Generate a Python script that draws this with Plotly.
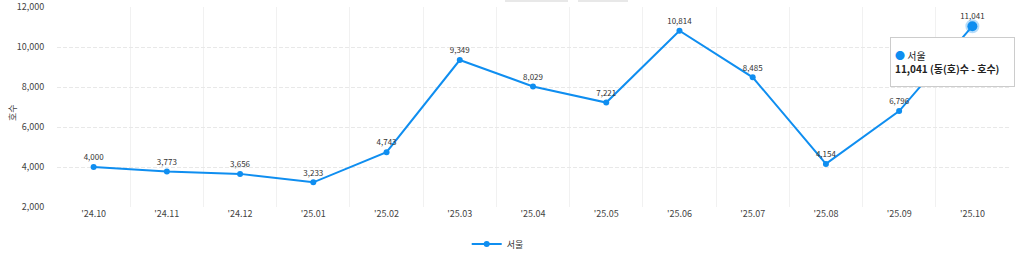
import plotly.graph_objects as go

categories = ["'24.10", "'24.11", "'24.12", "'25.01", "'25.02", "'25.03", "'25.04",
              "'25.05", "'25.06", "'25.07", "'25.08", "'25.09", "'25.10"]
seoul = [4000, 3773, 3656, 3233, 4743, 9349, 8029, 7221, 10814, 8485, 4154, 6796, 11041]
y_ticks = [2000, 4000, 6000, 8000, 10000, 12000]
series_name = "서울"
y_title = "호수"
tooltip_unit = "(동(호)수 - 호수)"

BLUE = "#0f8ef0"
FONT = "Noto Sans CJK KR"

fig = go.Figure()
fig.add_trace(go.Scatter(
    x=categories, y=seoul, name=series_name, mode="lines+markers+text",
    line=dict(color=BLUE, width=2), marker=dict(color=BLUE, size=6),
    text=[f"{v:,}" for v in seoul], textposition="top center",
    textfont=dict(size=8, color="#333333", family=FONT),
    cliponaxis=False,
))
fig.add_trace(go.Scatter(
    x=[categories[-1]], y=[seoul[-1]], mode="markers", showlegend=False,
    marker=dict(color=BLUE, size=10, line=dict(color="rgba(15,142,240,0.3)", width=4)),
    cliponaxis=False, hoverinfo="skip",
))

fig.update_layout(
    width=1022, height=259,
    margin=dict(l=57, r=13, t=7, b=52, autoexpand=False),
    paper_bgcolor="white", plot_bgcolor="white",
    font=dict(family=FONT, color="#444444", size=9),
    showlegend=True,
    legend=dict(orientation="h", xref="container", yref="container",
                x=0.487, xanchor="center", y=1 - 244 / 259, yanchor="middle",
                font=dict(size=9, color="#333333")),
    xaxis=dict(type="category", tickson="boundaries", showgrid=True, gridcolor="#f1f1f1",
               griddash="solid", ticks="outside", ticklen=8, tickcolor="rgba(0,0,0,0)",
               tickfont=dict(size=9, color="#444444"), showline=False, zeroline=False,
               range=[-0.5, len(categories) - 0.5]),
    yaxis=dict(range=[2000, 12000], tickvals=y_ticks, tickformat=",", showgrid=True,
               gridcolor="#e8e8e8", griddash="4px,2px", zeroline=False, showline=False,
               ticks="outside", ticklen=10, tickcolor="rgba(0,0,0,0)",
               tickfont=dict(size=9, color="#444444")),
    shapes=[
        dict(type="rect", xref="paper", yref="paper", x0=(505 - 57) / 952, x1=(568 - 57) / 952,
             y0=(207 - 0) / 200, y1=(207 - 2) / 200, fillcolor="#e8e8e8", line=dict(width=0)),
        dict(type="rect", xref="paper", yref="paper", x0=(578 - 57) / 952, x1=(628 - 57) / 952,
             y0=(207 - 0) / 200, y1=(207 - 2) / 200, fillcolor="#e8e8e8", line=dict(width=0)),
    ],
    annotations=[
        dict(xref="paper", yref="paper", x=(12 - 57) / 952, y=(207 - 113) / 200,
             xanchor="center", yanchor="middle", showarrow=False, textangle=-90,
             text=y_title, font=dict(size=9, color="#444444", family=FONT)),
        dict(
            xref="paper", yref="paper", x=(952.5 - 57) / 952, y=(207 - 62) / 200,
            xanchor="center", yanchor="middle", showarrow=False, align="left",
            width=115, height=40, bgcolor="white", bordercolor="#cccccc", borderwidth=1, borderpad=4,
            text=(f"<span style='color:{BLUE};font-size:10px'>●</span> {series_name}<br>"
                  f"<b>{seoul[-1]:,} {tooltip_unit}</b>"),
            font=dict(size=10, color="#222222", family=FONT),
        ),
    ],
)

fig.write_html("out.html")
